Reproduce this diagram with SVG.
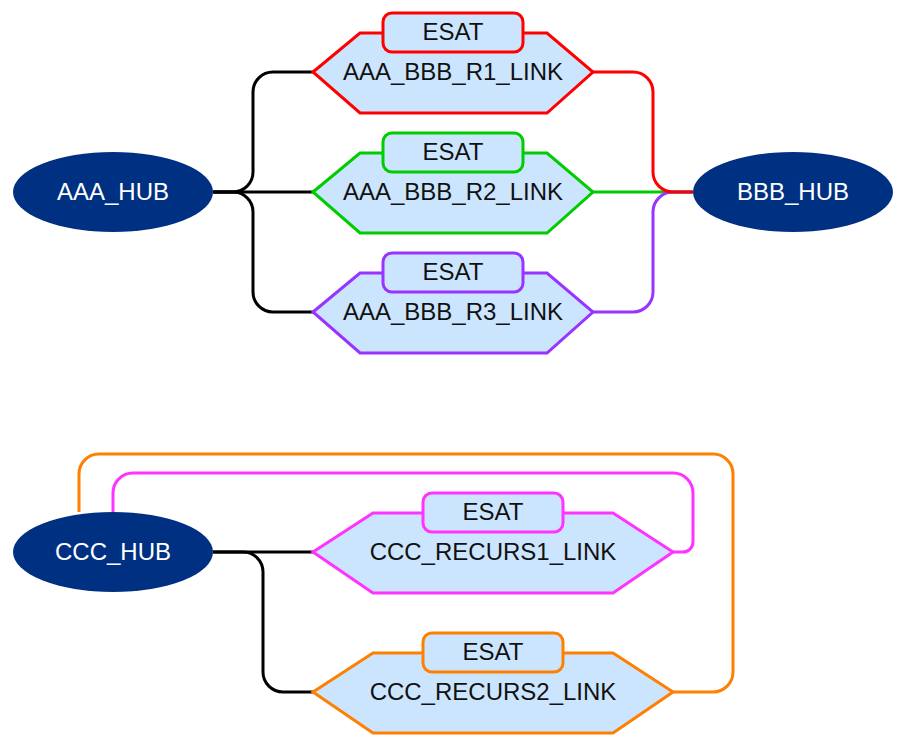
<svg xmlns="http://www.w3.org/2000/svg" width="906" height="746" viewBox="0 0 906 746">
<style>
text{font-family:"Liberation Sans",Arial,sans-serif;font-size:24px;text-anchor:middle}
.hub{fill:#003082}
.hubt{fill:#ffffff}
.hex{fill:#cce5ff;stroke-width:3;stroke-linejoin:miter}
.tag{fill:#cce5ff;stroke-width:3}
.lbl{fill:#111111}
.c{fill:none;stroke-width:3}
.red{stroke:#ff0000}.green{stroke:#00cc00}.purple{stroke:#9933ff}.mag{stroke:#ff33ff}.orange{stroke:#ff8000}.black{stroke:#000000}
</style>
<g id="connectors">
<path class="c black" d="M213,192 H233 A20,20 0 0 0 253,172 V92 A20,20 0 0 1 273,72 H313"/>
<path class="c black" d="M213,192 H313"/>
<path class="c black" d="M213,192 H233 A20,20 0 0 1 253,212 V292 A20,20 0 0 0 273,312 H313"/>
<path class="c green" d="M593,192 H693"/>
<path class="c purple" d="M593,312 H633 A20,20 0 0 0 653,292 V212 A20,20 0 0 1 673,192 H693"/>
<path class="c red" d="M593,72 H633 A20,20 0 0 1 653,92 V172 A20,20 0 0 0 673,192 H693"/>
<path class="c black" d="M213,552 H313"/>
<path class="c black" d="M213,552 H243 A20,20 0 0 1 263,572 V672 A20,20 0 0 0 283,692 H313"/>
<path class="c mag" d="M113,512 V493 A20,20 0 0 1 133,473 H673 A20,20 0 0 1 693,493 V542 A10,10 0 0 1 683,552 H673"/>
<path class="c orange" d="M79,512 V474 A20,20 0 0 1 99,454 H713 A20,20 0 0 1 733,474 V672 A20,20 0 0 1 713,692 H673"/>
</g>
<g id="AAA_HUB">
<ellipse class="hub" cx="113" cy="192" rx="100" ry="40"/>
<text class="hubt" x="113" y="200">AAA_HUB</text>
</g>
<g id="BBB_HUB">
<ellipse class="hub" cx="793" cy="192" rx="100" ry="40"/>
<text class="hubt" x="793" y="200">BBB_HUB</text>
</g>
<g id="CCC_HUB">
<ellipse class="hub" cx="113" cy="552" rx="100" ry="40"/>
<text class="hubt" x="113" y="560">CCC_HUB</text>
</g>
<g id="AAA_BBB_R1_LINK">
<polygon class="hex red" points="313,72 360,33 547,33 593,72 547,113 360,113"/>
<rect class="tag red" x="383" y="13" width="140" height="39" rx="9"/>
<text class="lbl" x="453" y="40">ESAT</text>
<text class="lbl" x="453" y="80">AAA_BBB_R1_LINK</text>
</g>
<g id="AAA_BBB_R2_LINK">
<polygon class="hex green" points="313,192 360,153 547,153 593,192 547,233 360,233"/>
<rect class="tag green" x="383" y="133" width="140" height="39" rx="9"/>
<text class="lbl" x="453" y="160">ESAT</text>
<text class="lbl" x="453" y="200">AAA_BBB_R2_LINK</text>
</g>
<g id="AAA_BBB_R3_LINK">
<polygon class="hex purple" points="313,312 360,273 547,273 593,312 547,353 360,353"/>
<rect class="tag purple" x="383" y="253" width="140" height="39" rx="9"/>
<text class="lbl" x="453" y="280">ESAT</text>
<text class="lbl" x="453" y="320">AAA_BBB_R3_LINK</text>
</g>
<g id="CCC_RECURS1_LINK">
<polygon class="hex mag" points="313,552 373,513 613,513 673,552 613,593 373,593"/>
<rect class="tag mag" x="423" y="493" width="140" height="39" rx="9"/>
<text class="lbl" x="493" y="520">ESAT</text>
<text class="lbl" x="493" y="560">CCC_RECURS1_LINK</text>
</g>
<g id="CCC_RECURS2_LINK">
<polygon class="hex orange" points="313,692 373,653 613,653 673,692 613,733 373,733"/>
<rect class="tag orange" x="423" y="633" width="140" height="39" rx="9"/>
<text class="lbl" x="493" y="660">ESAT</text>
<text class="lbl" x="493" y="700">CCC_RECURS2_LINK</text>
</g>
</svg>
